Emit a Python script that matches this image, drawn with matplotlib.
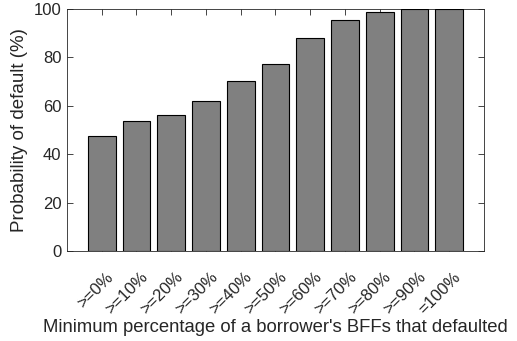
import matplotlib.pyplot as plt
import matplotlib.transforms as mtransforms
import numpy as np

plt.rcParams['font.family'] = ['Liberation Sans', 'DejaVu Sans']

labels = ['>=0%', '>=10%', '>=20%', '>=30%', '>=40%', '>=50%',
          '>=60%', '>=70%', '>=80%', '>=90%', '=100%']
prob = [47.5, 53.8, 56.2, 62.1, 70.1, 77.1, 88.0, 95.5, 98.6, 100, 100]

x = np.arange(1, len(labels) + 1)

fig = plt.figure(figsize=(5.17, 3.41), dpi=100)
ax = fig.add_axes([0.1296, 0.264, 0.8064, 0.7096])

ax.bar(x, prob, width=0.8, color='#808080', edgecolor='black', linewidth=0.8, zorder=3)

ax.set_xlim(0, 12)
ax.set_ylim(0, 100)
ax.set_xticks(x)
ax.set_xticklabels(labels, rotation=45, ha='right', va='center', rotation_mode='anchor',
                   fontsize=11.5)
ax.set_yticks([0, 20, 40, 60, 80, 100])
ax.tick_params(direction='in', top=True, right=True, labelsize=12, colors='#262626',
               length=4, width=0.6, pad=4)
# push the slanted labels down and to the right of their ticks
shift = mtransforms.ScaledTranslation(9 / 100, -18 / 100, fig.dpi_scale_trans)
for t in ax.get_xticklabels():
    t.set_transform(t.get_transform() + shift)
for s in ax.spines.values():
    s.set_color('#262626')
    s.set_linewidth(0.6)

ax.set_ylabel('Probability of default (%)', fontsize=13.5, color='#262626', labelpad=4)
ax.set_xlabel("Minimum percentage of a borrower's BFFs that defaulted", fontsize=13.3,
              color='#262626')
ax.xaxis.set_label_coords(0.5, -0.28)

fig.savefig('out.png', dpi=100)
